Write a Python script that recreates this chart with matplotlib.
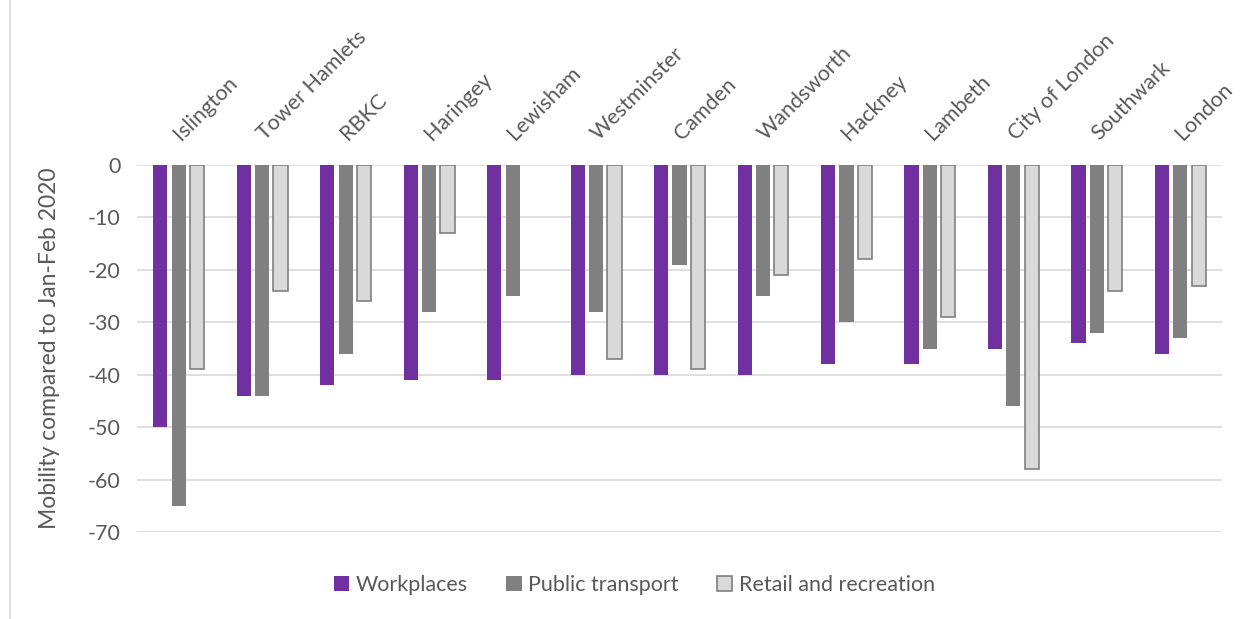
import numpy as np
import matplotlib.pyplot as plt
from matplotlib.patches import Rectangle

plt.rcParams['font.family'] = ['Lato', 'DejaVu Sans']

boroughs = ['Islington', 'Tower Hamlets', 'RBKC', 'Haringey', 'Lewisham',
            'Westminster', 'Camden', 'Wandsworth', 'Hackney', 'Lambeth',
            'City of London', 'Southwark', 'London']
workplaces = [-50, -44, -42, -41, -41, -40, -40, -40, -38, -38, -35, -34, -36]
public_transport = [-65, -44, -36, -28, -25, -28, -19, -25, -30, -35, -46, -32, -33]
retail = [-39, -24, -26, -13, np.nan, -37, -39, -21, -18, -29, -58, -24, -23]
yticks = [0, -10, -20, -30, -40, -50, -60, -70]

txt = '#595959'
fig = plt.figure(figsize=(12.49, 6.19), dpi=100)
ax = fig.add_axes([0.1097, 0.1405, 0.8687, 0.5929])

x = np.arange(len(boroughs))
w = 0.17
ax.bar(x - 0.22, workplaces, w, color='#7030A0', label='Workplaces', zorder=3)
ax.bar(x, public_transport, w, color='#808080', label='Public transport', zorder=3)
ax.bar(x + 0.22, retail, w, color='#D9D9D9', edgecolor='#808080', linewidth=1.2,
       label='Retail and recreation', zorder=3)

ax.set_xlim(-0.5, len(boroughs) - 0.5)
ax.set_ylim(-70, 0)
ax.set_yticks(yticks)
ax.set_yticklabels([str(v) for v in yticks], fontsize=15.5, color=txt)
ax.set_xticks([])
ax.tick_params(axis='y', length=0, pad=12)
ax.grid(axis='y', color='#D9D9D9', linewidth=1.2, zorder=0)
for s in ax.spines.values():
    s.set_visible(False)
ax.set_ylabel('Mobility compared to Jan-Feb 2020', fontsize=16.5, color=txt, labelpad=20)

for i, name in enumerate(boroughs):
    ax.annotate(name, xy=(i, 0), xytext=(2, 17), textcoords='offset points',
                rotation=45, rotation_mode='anchor', ha='left', va='baseline',
                fontsize=15.5, color=txt, annotation_clip=False)

fig.legend(loc='center', bbox_to_anchor=(0.508, 0.055), ncol=3, frameon=False,
           fontsize=15.5, labelcolor=txt, handlelength=0.7, handleheight=0.7,
           handletextpad=0.3, columnspacing=1.8)

fig.patches.append(Rectangle((0.008, -0.01), 1.2, 1.2, transform=fig.transFigure,
                             fill=False, edgecolor='#D9D9D9', linewidth=1.2))

fig.savefig('out.png', dpi=100)
